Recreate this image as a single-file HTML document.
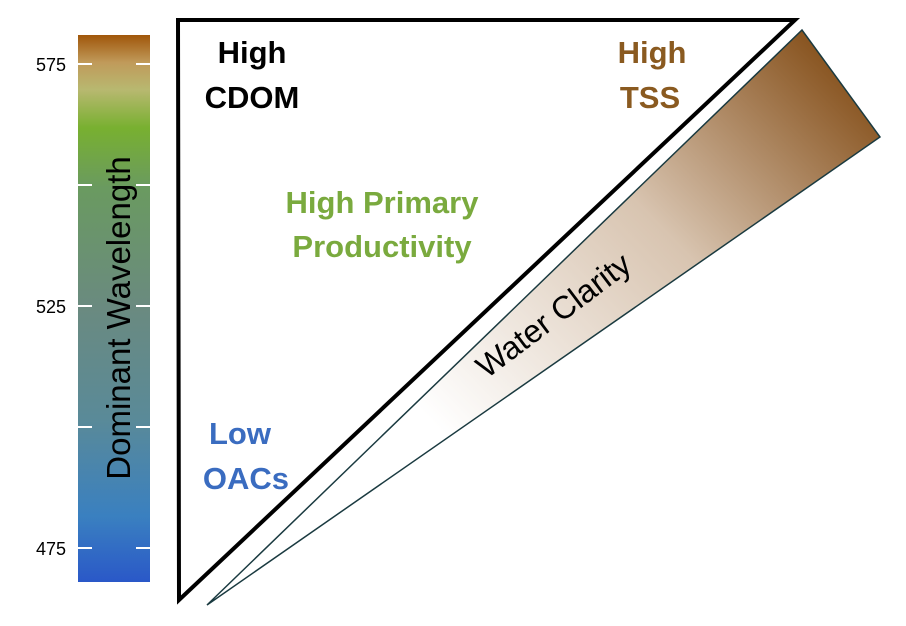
<!DOCTYPE html>
<html><head><meta charset="utf-8"><style>
body{margin:0;background:#fff;width:906px;height:621px;overflow:hidden;font-family:"Liberation Sans",sans-serif}
</style></head><body>
<svg width="906" height="621">
<defs>
<linearGradient id="cb" x1="0" y1="1" x2="0" y2="0">
<stop offset="0" stop-color="#2a58c8"/><stop offset="0.12" stop-color="#3a80c0"/>
<stop offset="0.3" stop-color="#5a8a98"/><stop offset="0.5" stop-color="#6a8a80"/>
<stop offset="0.72" stop-color="#6a9a60"/><stop offset="0.83" stop-color="#78b030"/>
<stop offset="0.9" stop-color="#b8b870"/><stop offset="0.95" stop-color="#c09a5a"/>
<stop offset="1" stop-color="#a0560a"/>
</linearGradient>
<linearGradient id="wg" x1="830" y1="50" x2="440" y2="430" gradientUnits="userSpaceOnUse">
<stop offset="0" stop-color="#86511c"/><stop offset="0.45" stop-color="#d8c4b0"/><stop offset="1" stop-color="#ffffff"/>
</linearGradient>
</defs>
<rect x="78" y="35" width="72" height="547" fill="url(#cb)"/>
<g id="ticks"></g>
<text transform="translate(130,318) rotate(-90)" text-anchor="middle" font-size="33" fill="#000">Dominant Wavelength</text>
<polygon points="207,605 802,30 880,137" fill="url(#wg)" stroke="#1a3a40" stroke-width="1.5"/>
<polygon points="178,20 795,20 179,600" fill="none" stroke="#000" stroke-width="4" stroke-linejoin="miter"/>
<text transform="translate(560,324) rotate(-37)" text-anchor="middle" font-size="32" fill="#000">Water Clarity</text>
<g font-weight="bold" font-size="31">
<text x="252" y="63" text-anchor="middle" fill="#000"><tspan x="252">High</tspan><tspan x="252" dy="45">CDOM</tspan></text>
<text x="652" y="63" text-anchor="middle" fill="#8a5a20"><tspan x="652">High</tspan><tspan x="650" dy="45">TSS</tspan></text>
<text x="382" y="213" text-anchor="middle" fill="#7aaa3e"><tspan x="382">High Primary</tspan><tspan x="382" dy="44">Productivity</tspan></text>
<text x="241" y="444" text-anchor="middle" fill="#3a6cc0"><tspan x="240">Low</tspan><tspan x="246" dy="45">OACs</tspan></text>
</g>
</svg>
<script>
const tickValues=[475,500,525,550,575];
const tickLabels=["475","","525","","575"];
function y(v){return 548+(v-475)*(64-548)/100;}
const g=document.getElementById('ticks');
const ns='http://www.w3.org/2000/svg';
tickValues.forEach((v,i)=>{
 [[78,92],[136,150]].forEach(([a,b])=>{
  const l=document.createElementNS(ns,'line');
  l.setAttribute('x1',a);l.setAttribute('x2',b);l.setAttribute('y1',y(v));l.setAttribute('y2',y(v));
  l.setAttribute('stroke','#fff');l.setAttribute('stroke-width','2');
  
  
  g.appendChild(l);
 });
 if(tickLabels[i]){
  const t=document.createElementNS(ns,'text');
  t.setAttribute('x',66);t.setAttribute('y',y(v)+7);t.setAttribute('text-anchor','end');
  t.setAttribute('font-size','18');t.textContent=tickLabels[i];
  
  
  g.appendChild(t);
 }
});
</script>
</body></html>
